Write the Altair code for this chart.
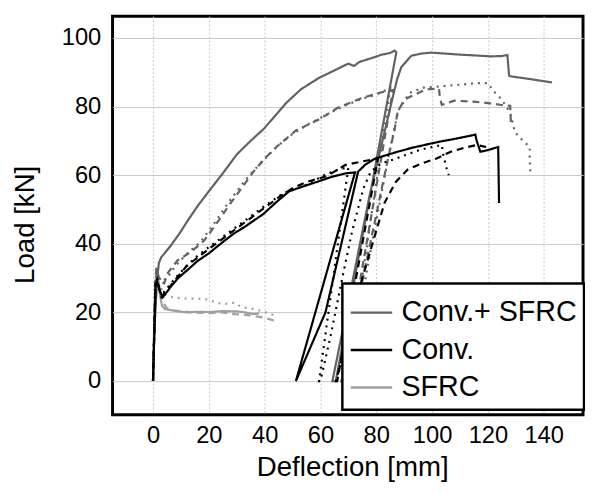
import altair as alt
import pandas as pd

# ---------------- data ----------------
groups = ["Conv.+ SFRC", "Conv.", "SFRC"]
group_colors = ["#626262", "#000000", "#a0a0a0"]
styles = ["solid", "dashed", "dotted"]
x_ticks = [0, 20, 40, 60, 80, 100, 120, 140]
y_ticks = [0, 20, 40, 60, 80, 100]

# Conv.+ SFRC
cs_solid_x = [0, 0.5, 1.5, 2.1, 2.9, 6.4, 9.5, 12.4, 16, 20, 25, 30, 35, 39.6, 44, 47.7, 53, 59.4, 65, 70, 72, 74,
              78, 82, 85, 86.6, 87.2, 65.5, 64.3, 70, 77.7, 86, 87.5, 89, 92.6, 96, 99.6, 105, 110, 115, 121, 125,
              127, 127.6, 128, 135, 143]
cs_solid_y = [0, 15, 30, 34.4, 36, 39.5, 43, 46.7, 51, 55.3, 60.5, 66, 70, 73.4, 77.5, 81, 85, 88.3, 90.5, 92.5, 91.8,
              93, 94, 95.1, 95.6, 96.3, 95.8, 0, 0, 23, 54.4, 83, 88, 91.5, 94.8, 95.4, 95.7, 95.4, 95.1, 94.9, 94.6,
              94.7, 95, 89, 88.8, 88, 87]
cs_dash_x = [0, 0.8, 1.2, 2.5, 4, 5.3, 8.8, 13.4, 18.4, 22, 27.6, 32, 36, 40, 44.2, 51.2, 55, 59.4, 66.4, 71, 75,
             81.3, 84, 86, 68, 67.5, 76, 84, 86.5, 87.6, 90, 93.6, 98, 102.5, 102.8, 103.5, 108, 115, 120, 124.4,
             128, 128.3]
cs_dash_y = [0, 28, 33, 29, 28.5, 31.5, 35.2, 37.5, 41, 45, 51.6, 56.5, 61, 64.8, 68.2, 73, 74.5, 76.2, 79.7, 81.2,
             82.5, 84, 84.5, 84.8, 0, 0, 33, 64, 73, 78.2, 82, 83.4, 85, 85.2, 82.5, 80.5, 81.7, 81.4, 81, 80.5,
             80.2, 74.5]
cs_dot_x = [0, 0.8, 1.3, 3, 5, 8, 12, 17, 22, 27, 33, 38, 44, 50, 56, 62, 68, 74, 80, 85, 69.5, 69.2, 78, 85, 88,
            92, 97, 102, 108, 116, 120, 122, 125, 128, 129.7, 132, 135, 135, 135.2]
cs_dot_y = [0, 29, 32, 29, 30, 33.5, 37, 40.5, 46, 52, 58.5, 63, 68, 72, 75, 77.5, 80, 82, 83.5, 85.3, 0, 0, 38,
            68, 79, 84, 85.5, 85.8, 86.2, 86.8, 86.8, 84.5, 82, 78.2, 72.5, 70.5, 68.2, 64.8, 61]

# Conv.
c_solid_x = [0, 0.5, 0.9, 1.5, 2.5, 3.5, 5, 6.4, 9, 12.4, 16, 20, 25, 29, 33, 36, 39.6, 44, 48.8, 53, 59.4, 64, 69,
             72.4, 51.2, 56.5, 61.8, 67.5, 73.5, 76, 79.5, 87.6, 93, 99.6, 103, 107.8, 112, 115.5, 116, 117.3, 120,
             123.7, 124]
c_solid_y = [0, 15, 28, 29, 26, 24.4, 26, 27.5, 30, 32.4, 35, 37.2, 40.5, 43, 45, 46.7, 48.7, 52, 55.3, 56.5, 58.2,
             59.5, 60.5, 60.8, 0, 10, 20, 40, 61, 63, 64.8, 66.8, 68, 69.2, 69.8, 70.5, 71.2, 71.8, 70, 66.8, 67.3,
             68.2, 51.9]
c_dash_x = [0, 0.9, 1.5, 3, 5, 8, 12, 16, 20, 25, 30, 35, 40, 45, 50, 55, 61.8, 66, 69, 75, 80.6, 66, 65.6, 75, 83,
            87, 91.2, 96, 101.4, 106.7, 111.3, 116, 119.4]
c_dash_y = [0, 28, 29.5, 24.5, 26.5, 29.5, 33.5, 36, 38.5, 41.5, 44.5, 47.5, 50.5, 53.5, 56.2, 58, 59.6, 61.5, 63,
            64, 64.8, 0, 0, 30, 52, 58, 61.6, 63.3, 64.8, 66.8, 67.9, 68.8, 68.2]
c_dot_x = [0, 0.9, 1.5, 3, 5, 8, 12, 16, 20, 25, 30, 35, 40, 46.6, 53.7, 58, 61.8, 66.4, 70, 59.5, 60, 63.6, 68.2,
           71.4, 75.3, 78, 82, 86, 91, 95.4, 99, 103.5, 104, 105, 106]
c_dot_y = [0, 29, 30, 25, 27, 30, 33.5, 36.5, 39, 42, 45, 48, 51, 54.7, 56.7, 58.5, 60.2, 61.6, 62.3, 0, 0, 13,
           31.5, 43.8, 55.9, 61, 63.5, 64.5, 66, 67.3, 68, 68.8, 66, 62.5, 60]

# SFRC
s_solid_x = [0, 0.4, 0.8, 1.2, 1.8, 2.5, 3.2, 4.2, 6, 9, 12.4, 16, 20, 25, 30, 33, 36, 38]
s_solid_y = [0, 15, 27, 31, 30, 25, 22, 21, 20.7, 20.3, 20, 20.2, 20.1, 20.4, 20.3, 20, 19.5, 19.7]
s_dash_x = [0, 0.9, 1.4, 2.5, 3.5, 5, 8, 14, 20, 25, 29, 33, 36, 39.6, 44]
s_dash_y = [0, 29, 30, 26, 23, 21.2, 20.5, 20, 19.8, 20, 19.5, 19.3, 19, 18.5, 17.5]
s_dot_x = [0, 0.8, 1.2, 2, 3.5, 5, 7.8, 12, 16, 19.4, 24.7, 29, 32, 36, 40.6, 44]
s_dot_y = [0, 28, 31.5, 29, 26, 24.8, 24.3, 24, 24, 23.8, 22.4, 22.8, 21.5, 21, 20, 19]

series = [
    ("SFRC", "solid", s_solid_x, s_solid_y),
    ("SFRC", "dashed", s_dash_x, s_dash_y),
    ("SFRC", "dotted", s_dot_x, s_dot_y),
    ("Conv.+ SFRC", "solid", cs_solid_x, cs_solid_y),
    ("Conv.+ SFRC", "dashed", cs_dash_x, cs_dash_y),
    ("Conv.+ SFRC", "dotted", cs_dot_x, cs_dot_y),
    ("Conv.", "solid", c_solid_x, c_solid_y),
    ("Conv.", "dashed", c_dash_x, c_dash_y),
    ("Conv.", "dotted", c_dot_x, c_dot_y),
]

rows = []
for g, st, xs, ys in series:
    for i, (xv, yv) in enumerate(zip(xs, ys)):
        rows.append({"group": g, "style": st, "series": g + "|" + st, "i": i, "x": xv, "y": yv})
df = pd.DataFrame(rows)

# ---------------- chart ----------------
x_enc = alt.X("x:Q",
              scale=alt.Scale(domain=[-14.5, 154.1], nice=False, zero=False),
              axis=alt.Axis(values=x_ticks, title="Deflection [mm]", labelPadding=9,
                            gridDash=[2, 2], titleX=243, titleY=62, titleBaseline="alphabetic",
                            labelFlush=False))
y_enc = alt.Y("y:Q",
              scale=alt.Scale(domain=[-9.8, 106.3], nice=False, zero=False),
              axis=alt.Axis(values=y_ticks, title="Load [kN]", labelPadding=12,
                            titleX=-80, titleY=211, titleAngle=-90, titleBaseline="alphabetic",
                            titleAlign="center", labelFlush=False))
color_enc = alt.Color("group:N",
                      scale=alt.Scale(domain=groups, range=group_colors),
                      legend=alt.Legend(orient="none", legendX=233, legendY=271, title=None,
                                        strokeColor="black", fillColor="white", padding=7,
                                        labelFontSize=29, labelFont="Liberation Sans", labelColor="black",
                                        symbolType="stroke", symbolSize=1764, symbolStrokeWidth=2.5,
                                        symbolOffset=0, labelOffset=8, rowPadding=0, labelLimit=400))
dash_enc = alt.StrokeDash("style:N",
                          scale=alt.Scale(domain=styles, range=[[1, 0], [7, 5], [2, 5]]),
                          legend=None)

def layer_for(g):
    return alt.Chart(df).transform_filter(alt.datum.group == g).mark_line(strokeWidth=2.2).encode(
        x=x_enc, y=y_enc, color=color_enc, strokeDash=dash_enc,
        detail="series:N", order=alt.Order("i:Q"))

chart = alt.layer(layer_for("SFRC"), layer_for("Conv.+ SFRC"), layer_for("Conv.")).properties(
    width=477, height=404,
    autosize=alt.AutoSizeParams(type="none"),
    padding={"left": 106, "top": 5, "right": 2, "bottom": 72},
).configure_view(stroke="black", strokeWidth=3).configure_axis(
    labelFont="Liberation Sans", titleFont="Liberation Sans",
    labelFontSize=24, titleFontSize=28, titleFontWeight="normal",
    labelColor="black", titleColor="black", domain=False, ticks=False,
    gridColor="#c8c8c8", gridWidth=1,
).configure_legend(strokeWidth=2.5)

chart.save("out.html", embed_options={"renderer": "svg", "actions": False})
